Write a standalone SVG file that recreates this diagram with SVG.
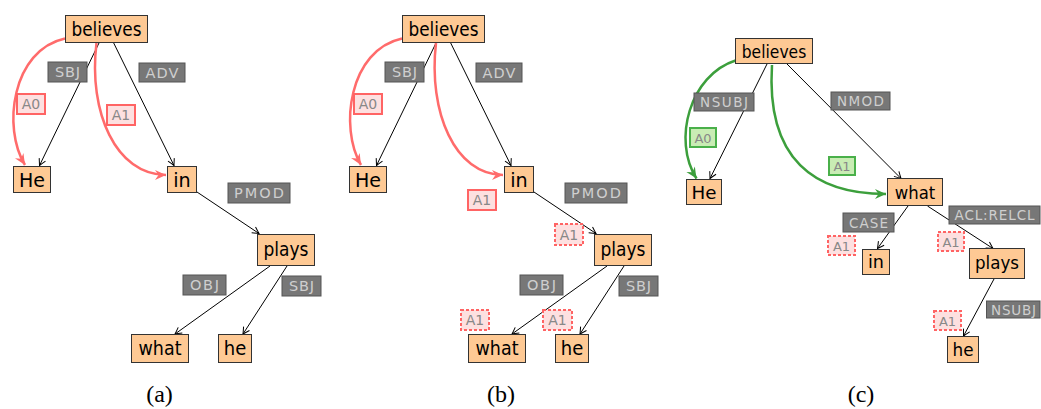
<svg xmlns="http://www.w3.org/2000/svg" width="1041" height="409" viewBox="0 0 1041 409">
  <defs>
    <style>
      .node rect { fill: #fec994; stroke: #333; stroke-width: 1; }
      .node text { font-family: "DejaVu Sans", sans-serif; font-size: 19.5px; fill: #000; text-anchor: middle; }
      .dep rect { fill: #777; stroke: #555; stroke-width: 1; }
      .dep text { font-family: "DejaVu Sans", sans-serif; font-size: 14.5px; fill: #cfcfcf; text-anchor: middle; }
      .role rect { fill: #fde0e0; stroke: #ff6464; stroke-width: 2; }
      .role.dash rect { stroke-dasharray: 3 2; }
      .role.ok rect { fill: #c9ecb4; stroke: #4ab04a; }
      .role text { font-family: "DejaVu Sans", sans-serif; font-size: 14px; fill: #888; text-anchor: middle; }
      .edges path.e { fill: none; stroke: #000; stroke-width: 1; marker-end: url(#tip); }
      .edges path.r { fill: none; stroke: #ff6b6b; stroke-width: 2.5; marker-end: url(#tipRed); }
      .edges path.g { fill: none; stroke: #3c9f3c; stroke-width: 2.5; marker-end: url(#tipGreen); }
      .cap { font-family: "Liberation Serif", serif; font-size: 24px; fill: #000; text-anchor: middle; }
    </style>
    <marker id="tip" viewBox="-8 -5 10 10" refX="0" refY="0" markerWidth="10" markerHeight="10" markerUnits="userSpaceOnUse" orient="auto">
      <path d="M-6.5,-3.5 Q-2,-1 0,0 Q-2,1 -6.5,3.5" fill="none" stroke="#000" stroke-width="1"/>
    </marker>
    <marker id="tipRed" viewBox="-12 -6 13 12" refX="0" refY="0" markerWidth="13" markerHeight="12" markerUnits="userSpaceOnUse" orient="auto">
      <path d="M-11,-5 L0,0 L-11,5 L-7.5,0 Z" fill="#ff6b6b"/>
    </marker>
    <marker id="tipGreen" viewBox="-12 -6 13 12" refX="0" refY="0" markerWidth="13" markerHeight="12" markerUnits="userSpaceOnUse" orient="auto">
      <path d="M-11,-5 L0,0 L-11,5 L-7.5,0 Z" fill="#3c9f3c"/>
    </marker>
  </defs>
  <rect width="1041" height="409" fill="#fff"/>

  <!-- connectors -->
  <g class="edges">
    <!-- tree (a) -->
    <path class="e" d="M99,43 L39.5,165.5"/>
    <path class="e" d="M113.7,43 L174,165.5"/>
    <path class="e" d="M197,192 L259,233.5"/>
    <path class="e" d="M270,266 L175,334"/>
    <path class="e" d="M287,266 L243,334"/>
    <path class="r" d="M65,38.5 C12,50 2,128 25,165"/>
    <path class="r" d="M96.5,43 C88,112 116,175 166,175"/>
    <!-- tree (b) -->
    <path class="e" d="M436,43 L376.5,165.5"/>
    <path class="e" d="M450.7,43 L511,165.5"/>
    <path class="e" d="M534,192 L596,233.5"/>
    <path class="e" d="M607,266 L512,334"/>
    <path class="e" d="M624,266 L580,334"/>
    <path class="r" d="M402,38.5 C349,50 339,128 361,165"/>
    <path class="r" d="M436,43 C428,112 455,175 503,175"/>
    <!-- tree (c) -->
    <path class="e" d="M767,64 L710,178.5"/>
    <path class="e" d="M787,64 L901,178.5"/>
    <path class="e" d="M908,206 L877.5,248.5"/>
    <path class="e" d="M927.5,206 L993,248.5"/>
    <path class="e" d="M994,279 L963.5,336"/>
    <path class="g" d="M735.5,60.5 C690,75 672,140 696.5,178.5"/>
    <path class="g" d="M772,65 C766,160 815,194 886,194"/>
  </g>

  <!-- tree (a) nodes -->
  <g id="a-believes" class="node"><rect x="65.5" y="15.5" width="82" height="27"/><text x="106.5" y="36" textLength="70" lengthAdjust="spacingAndGlyphs">believes</text></g>
  <g id="a-He" class="node"><rect x="13.5" y="166.5" width="37" height="26"/><text x="32" y="186.5" textLength="26" lengthAdjust="spacingAndGlyphs">He</text></g>
  <g id="a-in" class="node"><rect x="167.5" y="166.5" width="29" height="26"/><text x="182" y="186.5" textLength="17.5" lengthAdjust="spacingAndGlyphs">in</text></g>
  <g id="a-plays" class="node"><rect x="257.5" y="234.5" width="57" height="31"/><text x="286" y="256" textLength="45" lengthAdjust="spacingAndGlyphs">plays</text></g>
  <g id="a-what" class="node"><rect x="131.5" y="334.5" width="57" height="28"/><text x="160" y="355" textLength="43" lengthAdjust="spacingAndGlyphs">what</text></g>
  <g id="a-he" class="node"><rect x="218.5" y="334.5" width="33" height="28"/><text x="235" y="355" textLength="22.5" lengthAdjust="spacingAndGlyphs">he</text></g>

  <!-- tree (a) labels -->
  <g id="a-lbl-sbj" class="dep"><rect x="48" y="62" width="39" height="20"/><text x="67.5" y="77" textLength="25">SBJ</text></g>
  <g id="a-lbl-adv" class="dep"><rect x="139" y="63" width="46" height="19"/><text x="162" y="77.5" textLength="33">ADV</text></g>
  <g id="a-lbl-pmod" class="dep"><rect x="228" y="183" width="62" height="20"/><text x="259" y="198" textLength="50">PMOD</text></g>
  <g id="a-lbl-obj" class="dep"><rect x="183" y="275" width="43" height="20"/><text x="204.5" y="290" textLength="29">OBJ</text></g>
  <g id="a-lbl-sbj2" class="dep"><rect x="282" y="276" width="39" height="20"/><text x="301.5" y="291" textLength="25">SBJ</text></g>
  <g id="a-role-a0" class="role"><rect x="17" y="94" width="28" height="20"/><text x="31" y="109">A0</text></g>
  <g id="a-role-a1" class="role"><rect x="107" y="105" width="28" height="20"/><text x="121" y="120">A1</text></g>

  <!-- tree (b) nodes -->
  <g id="b-believes" class="node"><rect x="402.5" y="15.5" width="82" height="27"/><text x="443.5" y="36" textLength="70" lengthAdjust="spacingAndGlyphs">believes</text></g>
  <g id="b-He" class="node"><rect x="349.5" y="166.5" width="37" height="26"/><text x="368" y="186.5" textLength="26" lengthAdjust="spacingAndGlyphs">He</text></g>
  <g id="b-in" class="node"><rect x="504.5" y="166.5" width="29" height="26"/><text x="519" y="186.5" textLength="17.5" lengthAdjust="spacingAndGlyphs">in</text></g>
  <g id="b-plays" class="node"><rect x="594.5" y="234.5" width="57" height="31"/><text x="623" y="256" textLength="45" lengthAdjust="spacingAndGlyphs">plays</text></g>
  <g id="b-what" class="node"><rect x="468.5" y="334.5" width="57" height="28"/><text x="497" y="355" textLength="43" lengthAdjust="spacingAndGlyphs">what</text></g>
  <g id="b-he" class="node"><rect x="555.5" y="334.5" width="33" height="28"/><text x="572" y="355" textLength="22.5" lengthAdjust="spacingAndGlyphs">he</text></g>

  <!-- tree (b) labels -->
  <g id="b-lbl-sbj" class="dep"><rect x="385" y="62" width="39" height="20"/><text x="404.5" y="77" textLength="25">SBJ</text></g>
  <g id="b-lbl-adv" class="dep"><rect x="476" y="63" width="46" height="19"/><text x="499" y="77.5" textLength="33">ADV</text></g>
  <g id="b-lbl-pmod" class="dep"><rect x="565" y="183" width="62" height="20"/><text x="596" y="198" textLength="50">PMOD</text></g>
  <g id="b-lbl-obj" class="dep"><rect x="520" y="275" width="43" height="20"/><text x="541.5" y="290" textLength="29">OBJ</text></g>
  <g id="b-lbl-sbj2" class="dep"><rect x="619" y="276" width="39" height="20"/><text x="638.5" y="291" textLength="25">SBJ</text></g>
  <g id="b-role-a0" class="role"><rect x="354" y="94" width="28" height="20"/><text x="368" y="109">A0</text></g>
  <g id="b-role-a1" class="role"><rect x="468" y="190" width="28" height="20"/><text x="482" y="205">A1</text></g>
  <g id="b-role-a1-plays" class="role dash"><rect x="555" y="224" width="28" height="21"/><text x="569" y="239.5">A1</text></g>
  <g id="b-role-a1-what" class="role dash"><rect x="461" y="310" width="28" height="20"/><text x="475" y="325">A1</text></g>
  <g id="b-role-a1-he" class="role dash"><rect x="543" y="310" width="29" height="20"/><text x="557.5" y="325">A1</text></g>

  <!-- tree (c) nodes -->
  <g id="c-believes" class="node"><rect x="735.5" y="38.5" width="77" height="25"/><text x="774" y="58" textLength="64.5" lengthAdjust="spacingAndGlyphs" style="font-size:18.5px">believes</text></g>
  <g id="c-He" class="node"><rect x="686.5" y="179.5" width="35" height="25"/><text x="704" y="198.5" textLength="25" lengthAdjust="spacingAndGlyphs" style="font-size:18.5px">He</text></g>
  <g id="c-what" class="node"><rect x="887.5" y="178.5" width="55" height="27"/><text x="915" y="198.5" textLength="40.5" lengthAdjust="spacingAndGlyphs" style="font-size:18.5px">what</text></g>
  <g id="c-in" class="node"><rect x="862.5" y="249.5" width="27" height="25"/><text x="876" y="268" textLength="16" lengthAdjust="spacingAndGlyphs" style="font-size:18.5px">in</text></g>
  <g id="c-plays" class="node"><rect x="969.5" y="248.5" width="55" height="30"/><text x="997" y="269" textLength="44" lengthAdjust="spacingAndGlyphs" style="font-size:18.5px">plays</text></g>
  <g id="c-he" class="node"><rect x="947.5" y="336.5" width="31" height="26"/><text x="963" y="355.5" textLength="21" lengthAdjust="spacingAndGlyphs" style="font-size:18.5px">he</text></g>

  <!-- tree (c) labels -->
  <g id="c-lbl-nsubj" class="dep"><rect x="694" y="93" width="60" height="18"/><text x="724" y="107" textLength="48" style="font-size:13.5px">NSUBJ</text></g>
  <g id="c-lbl-nmod" class="dep"><rect x="831" y="92" width="59" height="18"/><text x="860.5" y="106" textLength="47" style="font-size:13.5px">NMOD</text></g>
  <g id="c-lbl-case" class="dep"><rect x="843" y="213" width="51" height="19"/><text x="868.5" y="227.5" textLength="39" style="font-size:13.5px">CASE</text></g>
  <g id="c-lbl-aclrelcl" class="dep"><rect x="949" y="206" width="91" height="18"/><text x="994.5" y="220" textLength="80" style="font-size:13.5px">ACL:RELCL</text></g>
  <g id="c-lbl-nsubj2" class="dep"><rect x="986.5" y="301" width="53.5" height="17"/><text x="1013.5" y="314.5" textLength="45" style="font-size:13.5px">NSUBJ</text></g>
  <g id="c-role-a0" class="role ok"><rect x="690" y="128" width="26" height="19"/><text x="703" y="142.5" style="font-size:13px">A0</text></g>
  <g id="c-role-a1" class="role ok"><rect x="829" y="157" width="26" height="18"/><text x="842" y="171" style="font-size:13px">A1</text></g>
  <g id="c-role-a1-in" class="role dash"><rect x="828" y="236" width="27" height="19"/><text x="841.5" y="250.5" style="font-size:13px">A1</text></g>
  <g id="c-role-a1-plays" class="role dash"><rect x="938" y="232" width="26" height="19"/><text x="951" y="246.5" style="font-size:13px">A1</text></g>
  <g id="c-role-a1-he" class="role dash"><rect x="934" y="311" width="27" height="19"/><text x="947.5" y="325.5" style="font-size:13px">A1</text></g>

  <!-- captions -->
  <text class="cap" x="159.5" y="402">(a)</text>
  <text class="cap" x="501" y="402">(b)</text>
  <text class="cap" x="861" y="402">(c)</text>
</svg>
